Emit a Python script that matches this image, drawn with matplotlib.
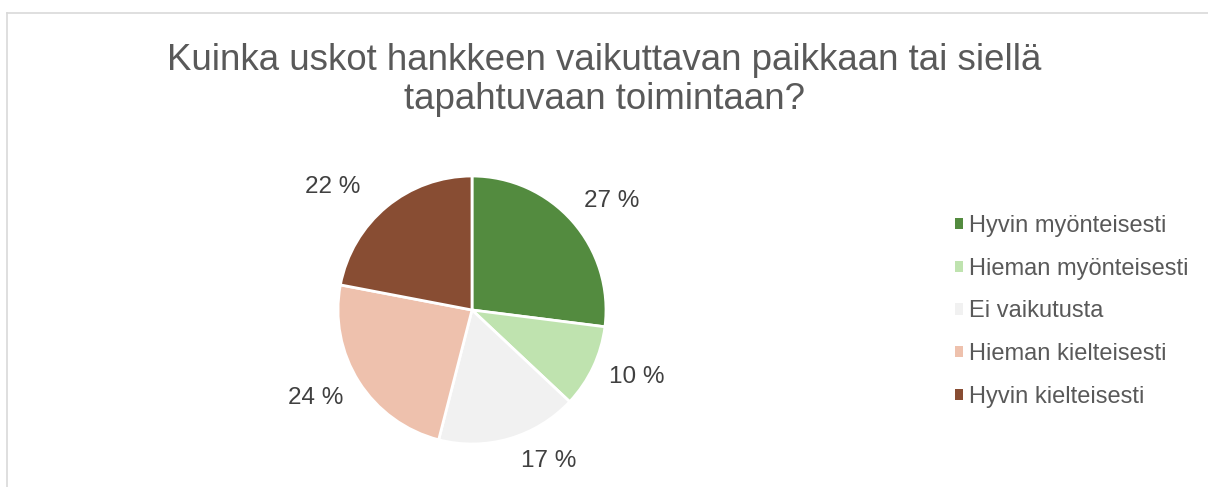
import matplotlib
matplotlib.use("Agg")
import matplotlib.pyplot as plt
import numpy as np
from matplotlib.lines import Line2D

plt.rcParams["font.family"] = ["Liberation Sans", "DejaVu Sans"]

# data
categories = ["Hyvin myönteisesti", "Hieman myönteisesti", "Ei vaikutusta",
              "Hieman kielteisesti", "Hyvin kielteisesti"]
shares = [27, 10, 17, 24, 22]
colors = ["#538B3F", "#BFE3AF", "#F1F1F1", "#EEC1AD", "#884D33"]
title = "Kuinka uskot hankkeen vaikuttavan paikkaan tai siellä\ntapahtuvaan toimintaan?"

# label placement tweaks (deg shift from slice middle, radius in pie radii)
label_shift = [3.5, -3.1, -10.8, 3.0, -8.9]
label_radius = [1.32, 1.33, 1.265, 1.34, 1.385]

fig = plt.figure(figsize=(12.08, 4.87), dpi=100)

# light frame (left + top edges only visible)
fig.add_artist(Line2D([6.5 / 1208, 6.5 / 1208], [0, 1 - 12.5 / 487],
                      color="#D9D9D9", lw=1.2))
fig.add_artist(Line2D([6.5 / 1208, 1], [1 - 12.5 / 487, 1 - 12.5 / 487],
                      color="#D9D9D9", lw=1.2))

fig.text(0.5, 1 - 80 / 487, title, ha="center", va="center", fontsize=26.4,
         color="#595959", linespacing=1.15)

# pie: centre (472, 310), radius ~134 px
r = 134
cx, cy = 472, 487 - 310
ax = fig.add_axes([(cx - r) / 1208, (cy - r) / 487, 2 * r / 1208, 2 * r / 487])
wedges, _ = ax.pie(shares, colors=colors, startangle=90, counterclock=False,
                   wedgeprops=dict(edgecolor="white", linewidth=2))
for w, v, sh, rad in zip(wedges, shares, label_shift, label_radius):
    mid = np.deg2rad((w.theta1 + w.theta2) / 2 - sh)
    ax.text(rad * np.cos(mid), rad * np.sin(mid), f"{v} %", ha="center",
            va="center", fontsize=17.5, color="#404040")
ax.set_xlim(-1, 1); ax.set_ylim(-1, 1)
ax.set_aspect("equal")

leg = fig.legend(wedges, categories, loc="center left",
                 bbox_to_anchor=(955 / 1208, 1 - 311.5 / 487), frameon=False,
                 fontsize=17, labelcolor="#595959", handlelength=0.35,
                 handleheight=0.35, handletextpad=0.25, labelspacing=0.88,
                 borderpad=0, borderaxespad=0)
for h in leg.legend_handles:
    h.set_edgecolor("none")

fig.savefig("out.png", dpi=100)
